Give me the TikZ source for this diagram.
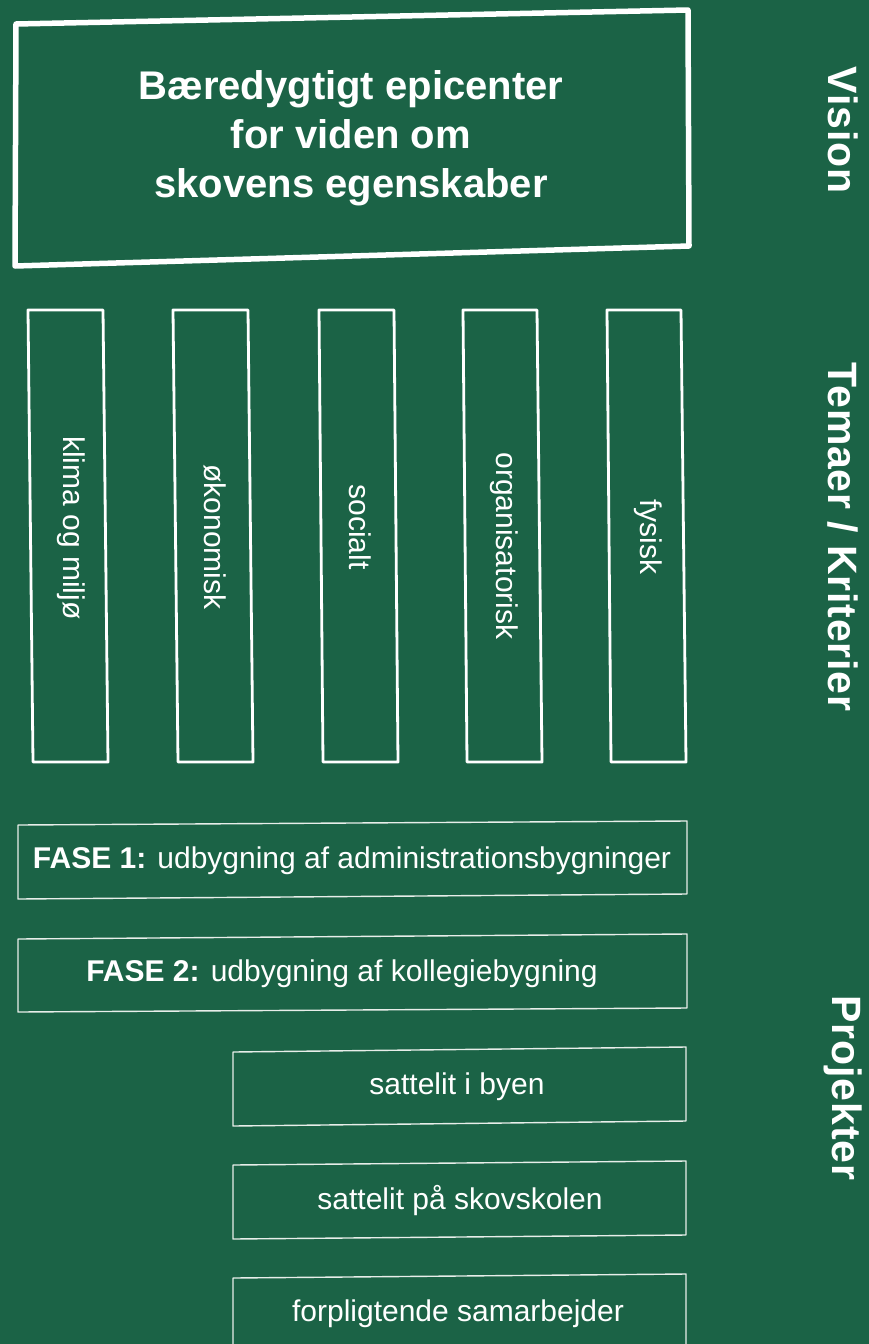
\documentclass[tikz,border=0pt]{standalone}
\usepackage{fontspec}
\setmainfont{Liberation Sans}
\definecolor{bg}{RGB}{27,99,70}
\definecolor{thin}{RGB}{232,238,234}
\begin{document}
\begin{tikzpicture}[x=1pt,y=-1pt,
  visionline/.style={draw=white, line width=5.5pt, line join=round, line cap=round},
  themeline/.style={draw=white, line width=2.8pt, line join=round},
  projline/.style={draw=thin, line width=1.4pt, line join=round},
  titletext/.style={text=white, font=\bfseries\fontsize{40}{49}\selectfont, align=center, inner sep=0pt},
  themetext/.style={text=white, font=\fontsize{30}{36}\selectfont, rotate=-90, inner sep=0pt},
  projtext/.style={text=white, font=\fontsize{30}{36}\selectfont, inner sep=0pt},
  sidetext/.style={text=white, font=\bfseries\fontsize{41}{48}\selectfont\addfontfeature{LetterSpace=2}, rotate=-90, inner sep=0pt}]
\fill[bg] (0,0) rectangle (869,1344);
\useasboundingbox (0,0) rectangle (869,1344);

% Vision
\draw[visionline] (16,24) -- (688,10) -- (689,246) -- (15,266) -- cycle;
\node[titletext] (vision) at (351,138) {Bæredygtigt epicenter\\for viden om\\skovens egenskaber};

% Themes
\draw[themeline] (28,310) -- (103,310) -- (108,762) -- (33,762) -- cycle;
\draw[themeline] (173,310) -- (248,310) -- (253,762) -- (178,762) -- cycle;
\draw[themeline] (319,310) -- (394,310) -- (398,762) -- (323,762) -- cycle;
\draw[themeline] (463,310) -- (537,310) -- (542,762) -- (467,762) -- cycle;
\draw[themeline] (607,310) -- (681,310) -- (686,762) -- (611,762) -- cycle;
\node[themetext] (klima) at (71,528) {klima og miljø};
\node[themetext] (okonomisk) at (215,537) {økonomisk};
\node[themetext] (socialt) at (360,527) {socialt};
\node[themetext] (organisatorisk) at (504,546) {organisatorisk};
\node[themetext] (fysisk) at (648,537) {fysisk};

% Projects
\draw[projline] (18,825) -- (687,821) -- (687,894) -- (18,899) -- cycle;
\draw[projline] (18,939) -- (687,934) -- (687,1008) -- (18,1012) -- cycle;
\draw[projline] (233,1052) -- (686,1047) -- (686,1121) -- (233,1126) -- cycle;
\draw[projline] (233,1165) -- (686,1161) -- (686,1235) -- (233,1239) -- cycle;
\draw[projline] (233,1360) -- (233,1278) -- (686,1274) -- (686,1360);
\node[projtext] (fase1) at (352,861) {\textbf{FASE 1:} udbygning af administrationsbygninger};
\node[projtext] (fase2) at (342,974) {\textbf{FASE 2:} udbygning af kollegiebygning};
\node[projtext] (byen) at (457,1087) {sattelit i byen};
\node[projtext] (skovskolen) at (460,1201) {sattelit på skovskolen};
\node[projtext] (samarbejder) at (458,1314) {forpligtende samarbejder};

% Side labels
\node[sidetext] (lvision) at (843,130) {Vision};
\node[sidetext] (ltemaer) at (843,537) {Temaer / Kriterier};
\node[sidetext] (lprojekter) at (843,1088) {Projekter};
\end{tikzpicture}
\end{document}
